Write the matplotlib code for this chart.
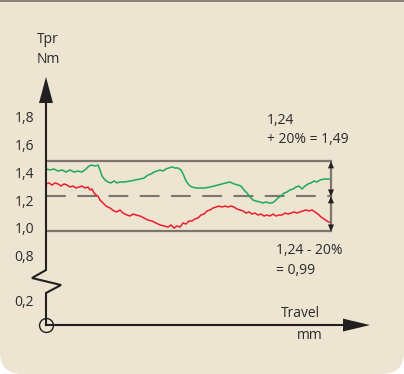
import numpy as np
import matplotlib.pyplot as plt
from matplotlib.patches import FancyBboxPatch, Polygon, Rectangle

plt.rcParams['font.family'] = ['Open Sans', 'DejaVu Sans']

# travel positions (arbitrary units) and torque readings (Nm)
green_t = [0, 4, 8, 12, 16, 20, 24, 28, 32, 36, 40, 43, 46, 49, 52, 54, 56, 59, 62, 65,
           68, 71, 74, 79, 84, 89, 94, 98, 102, 105, 108, 111, 114, 117, 120, 123, 126, 129, 132, 135,
           138, 140, 143, 146, 150, 154, 159, 164, 168, 172, 176, 180, 184, 188, 192, 195, 198, 201, 204, 207,
           210, 214, 217, 220, 223, 226, 229, 232, 235, 238, 241, 244, 247, 250, 253, 256, 259, 262, 265, 268,
           271, 274, 278, 282, 285]
green_tpr = [1.436, 1.429, 1.436, 1.421, 1.429, 1.414, 1.429, 1.414, 1.421, 1.414,
             1.436, 1.457, 1.464, 1.457, 1.464, 1.429, 1.386, 1.357, 1.343, 1.336,
             1.350, 1.336, 1.343, 1.343, 1.350, 1.357, 1.364, 1.371, 1.393, 1.400,
             1.414, 1.421, 1.429, 1.421, 1.436, 1.443, 1.450, 1.443, 1.443, 1.429,
             1.386, 1.350, 1.321, 1.307, 1.300, 1.300, 1.300, 1.307, 1.314, 1.321,
             1.329, 1.336, 1.343, 1.329, 1.321, 1.314, 1.286, 1.264, 1.236, 1.214,
             1.207, 1.200, 1.193, 1.200, 1.193, 1.193, 1.207, 1.229, 1.243, 1.264,
             1.271, 1.286, 1.293, 1.307, 1.314, 1.293, 1.314, 1.329, 1.336, 1.350,
             1.343, 1.357, 1.364, 1.364, 1.364]

red_t = [0, 3, 6, 9, 12, 15, 18, 21, 24, 27, 30, 33, 36, 39, 42, 44, 46, 48, 50, 52,
         54, 57, 60, 64, 68, 71, 74, 77, 81, 84, 87, 90, 94, 98, 102, 106, 110, 114, 118, 122,
         125, 128, 131, 134, 137, 140, 143, 146, 149, 152, 155, 158, 161, 164, 167, 170, 173, 176, 179, 182,
         185, 188, 191, 194, 197, 200, 203, 206, 209, 212, 215, 218, 221, 224, 227, 230, 233, 236, 239, 242,
         245, 248, 251, 254, 257, 260, 263, 266, 269, 272, 275, 278, 281, 285]
red_tpr = [1.329, 1.336, 1.321, 1.336, 1.329, 1.314, 1.329, 1.321, 1.307, 1.314,
           1.300, 1.307, 1.314, 1.300, 1.307, 1.286, 1.293, 1.264, 1.250, 1.243,
           1.214, 1.193, 1.171, 1.157, 1.136, 1.129, 1.143, 1.121, 1.107, 1.100,
           1.114, 1.107, 1.100, 1.086, 1.071, 1.064, 1.050, 1.036, 1.029, 1.021,
           1.036, 1.014, 1.029, 1.021, 1.050, 1.043, 1.064, 1.064, 1.079, 1.086,
           1.107, 1.114, 1.136, 1.143, 1.157, 1.164, 1.171, 1.164, 1.171, 1.164,
           1.171, 1.164, 1.150, 1.143, 1.136, 1.121, 1.129, 1.114, 1.121, 1.107,
           1.114, 1.100, 1.107, 1.100, 1.114, 1.100, 1.107, 1.107, 1.121, 1.114,
           1.121, 1.129, 1.121, 1.129, 1.136, 1.143, 1.136, 1.143, 1.129, 1.114,
           1.093, 1.079, 1.064, 1.050]

nominal = 1.24
upper = 1.49
lower = 0.99
tick_vals = [1.8, 1.6, 1.4, 1.2, 1.0, 0.8]
tick_labels = ['1,8', '1,6', '1,4', '1,2', '1,0', '0,8']

BG = '#ede4d2'
AXC = '#231f20'
REFC = '#7e766c'
TXT = '#2b2b2b'

fig = plt.figure(figsize=(4.04, 3.74), dpi=100, facecolor='white')

# panel with rounded bottom corners (drawn under the axes)
panel = FancyBboxPatch((0, 0), 404, 420, boxstyle='round,pad=0,rounding_size=22',
                       transform=None, facecolor=BG, edgecolor='none', zorder=-10)
fig.patches.append(panel)
fig.patches.append(Rectangle((0, 372), 404, 2, transform=None, facecolor='#8b8579',
                             edgecolor='none', zorder=-9))

ax = fig.add_axes([0, 0, 1, 1])
ax.set_xlim(-46, 358)
ax.set_ylim(-0.0286, 2.6429)
ax.axis('off')
ax.patch.set_alpha(0)

y0 = 0.321   # where travel axis sits (broken scale below 0.8)
x_end = 285

# reference lines
ax.plot([0, x_end], [upper, upper], color=REFC, lw=1.6, solid_capstyle='butt')
ax.plot([0, x_end], [lower, lower], color=REFC, lw=1.6, solid_capstyle='butt')
ax.plot([0, x_end], [nominal, nominal], color=REFC, lw=1.5, dashes=(9.5, 5.5))

# measured curves
ax.plot(green_t, green_tpr, color='#1fa95a', lw=1.1)
ax.plot(red_t, red_tpr, color='#ec1c2e', lw=1.1)

# tolerance arrows on the right
ap = dict(arrowstyle='<|-|>,head_length=0.5,head_width=0.22', color=AXC, lw=0,
          shrinkA=0, shrinkB=0, mutation_scale=10)
ax.plot([x_end, x_end], [lower, upper], color=REFC, lw=1.6)
ax.annotate('', xy=(x_end, upper), xytext=(x_end, nominal), arrowprops=ap)
ax.annotate('', xy=(x_end, nominal), xytext=(x_end, lower), arrowprops=ap)

# y axis with break
ax.plot([0, 0, -14, 15, 0, 0], [1.907, 0.714, 0.657, 0.607, 0.55, y0],
        color=AXC, lw=1.5, solid_joinstyle='miter')
ax.add_patch(Polygon([(0, 2.093), (-7, 1.907), (7, 1.907)], closed=True,
                     facecolor=AXC, edgecolor='none'))
# x axis
ax.plot([0, 297], [y0, y0], color=AXC, lw=1.5)
ax.add_patch(Polygon([(324, y0), (297, y0 + 0.046), (297, y0 - 0.046)], closed=True,
                     facecolor=AXC, edgecolor='none'))
ax.plot([0], [y0], marker='o', ms=10, mfc='none', mec=AXC, mew=1.0)

# tick labels
for v, lab in zip(tick_vals, tick_labels):
    ax.text(-12, v, lab, ha='right', va='center', fontsize=10, color=TXT)
ax.text(-12, 0.479, '0,2', ha='right', va='center', fontsize=10, color=TXT)

ax.text(2, 2.36, 'Tpr', ha='center', va='center', fontsize=10, color=TXT)
ax.text(2, 2.22, 'Nm', ha='center', va='center', fontsize=10, color=TXT)
ax.text(254, 0.40, 'Travel', ha='center', va='center', fontsize=10, color=TXT)
ax.text(264, 0.246, 'mm', ha='center', va='center', fontsize=10, color=TXT)

ax.text(221, 1.779, '1,24', ha='left', va='center', fontsize=10, color=TXT)
ax.text(221, 1.650, '+ 20% = 1,49', ha='left', va='center', fontsize=10, color=TXT)
ax.text(230, 0.857, '1,24 - 20%', ha='left', va='center', fontsize=10, color=TXT)
ax.text(230, 0.714, '= 0,99', ha='left', va='center', fontsize=10, color=TXT)

fig.savefig('out.png', dpi=100, facecolor='white')
